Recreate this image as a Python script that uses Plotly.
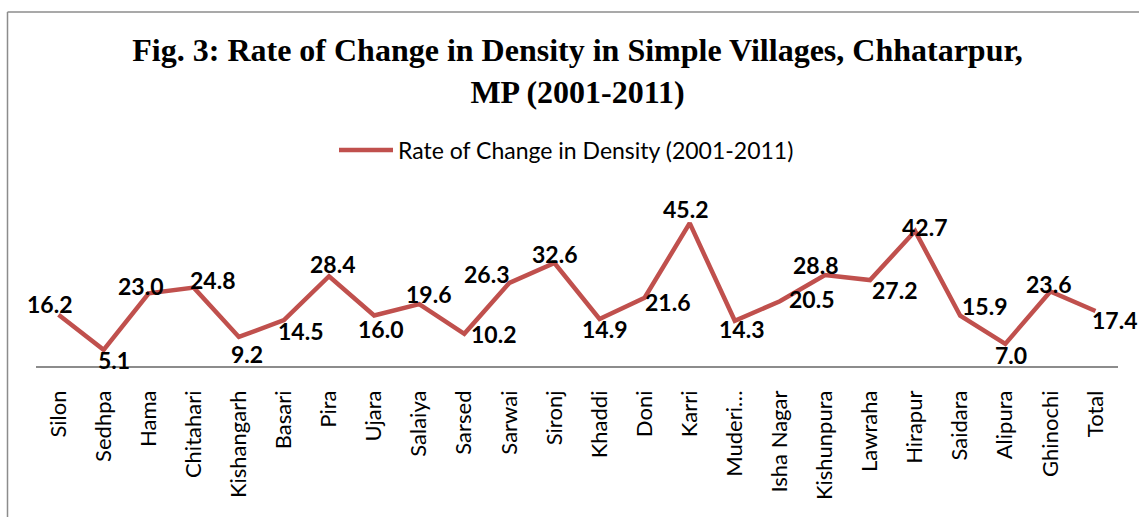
import plotly.graph_objects as go

villages = ["Silon", "Sedhpa", "Hama", "Chitahari", "Kishangarh", "Basari", "Pira", "Ujara",
            "Salaiya", "Sarsed", "Sarwai", "Sironj", "Khaddi", "Doni", "Karri", "Muderi…",
            "Isha Nagar", "Kishunpura", "Lawraha", "Hirapur", "Saidara", "Alipura", "Ghinochi", "Total"]
rate_change = [16.2, 5.1, 23.0, 24.8, 9.2, 14.5, 28.4, 16.0, 19.6, 10.2, 26.3, 32.6, 14.9, 21.6,
               45.2, 14.3, 20.5, 28.8, 27.2, 42.7, 15.9, 7.0, 23.6, 17.4]
series_name = "Rate of Change in Density (2001-2011)"
title_text = "Fig. 3: Rate of Change in Density in Simple Villages, Chhatarpur,<br>MP (2001-2011)"

# label pixel offsets (dx, dy) relative to each point (style only)
label_dx = [-9, 10, -8, 19, 8, 17, 3, 6, 9, 29, -23, 0, 5, 23, -4, 7, 32, -9, 24, 9, 24, 6, -2, 19]
label_dy = [-11, 10, -7, -8, 17, 11, -12, 14, -10, 0, -9, -9, 10, 4, -14, 8, -2, -10, 10, -4, -10, 11, -7, 9]

RED = "#C0504D"
W, H = 1139, 517
L, R, T, B = 36, 21, 208, 151
ph = H - T - B
pw = W - L - R

fig = go.Figure()
fig.add_trace(go.Scatter(
    x=villages, y=rate_change, mode="lines", name=series_name,
    line=dict(color=RED, width=4.5), showlegend=True, hoverinfo="skip"))

for v, val, dx, dy in zip(villages, rate_change, label_dx, label_dy):
    fig.add_annotation(x=v, y=val, xref="x", yref="y", text=f"{val:.1f}",
                       showarrow=False, xshift=dx, yshift=-dy,
                       font=dict(family="Lato", size=23, color="black", weight="bold"))

# outer frame (left and top edges visible)
fx0 = (7.5 - L) / pw
fy1 = (H - B - 12) / ph
fig.add_shape(type="line", xref="paper", yref="paper", x0=fx0, x1=fx0, y0=-2, y1=fy1,
              line=dict(color="#8c8c8c", width=1.5), layer="above")
fig.add_shape(type="line", xref="paper", yref="paper", x0=fx0, x1=1.2, y0=fy1, y1=fy1,
              line=dict(color="#8c8c8c", width=1.5), layer="above")

fig.update_layout(
    width=W, height=H,
    margin=dict(l=L, r=R, t=T, b=B, autoexpand=False),
    paper_bgcolor="white", plot_bgcolor="white",
    hovermode=False,
    title=dict(text=title_text, x=577.5 / W, xanchor="center", xref="container",
               y=1 - 61 / H, yanchor="top", yref="container",
               font=dict(family="Liberation Serif", size=32, color="black", weight="bold")),
    legend=dict(orientation="h", xref="paper", yref="paper",
                x=(334 - L) / pw, xanchor="left", y=(H - B - 150) / ph, yanchor="middle",
                font=dict(family="Lato", size=23, color="black"),
                itemwidth=54, bgcolor="rgba(0,0,0,0)"),
    xaxis=dict(showline=True, linecolor="#8c8c8c", linewidth=1.5, showgrid=False,
               zeroline=False, ticks="", tickangle=-90, range=[-0.5, 23.5],
               tickfont=dict(family="Lato", size=22, color="black"), ticklabelstandoff=14),
    yaxis=dict(visible=False, range=[0, 50]),
)

fig.write_html("out.html", config={"displayModeBar": False},
               post_script="document.body.style.margin='0';")
